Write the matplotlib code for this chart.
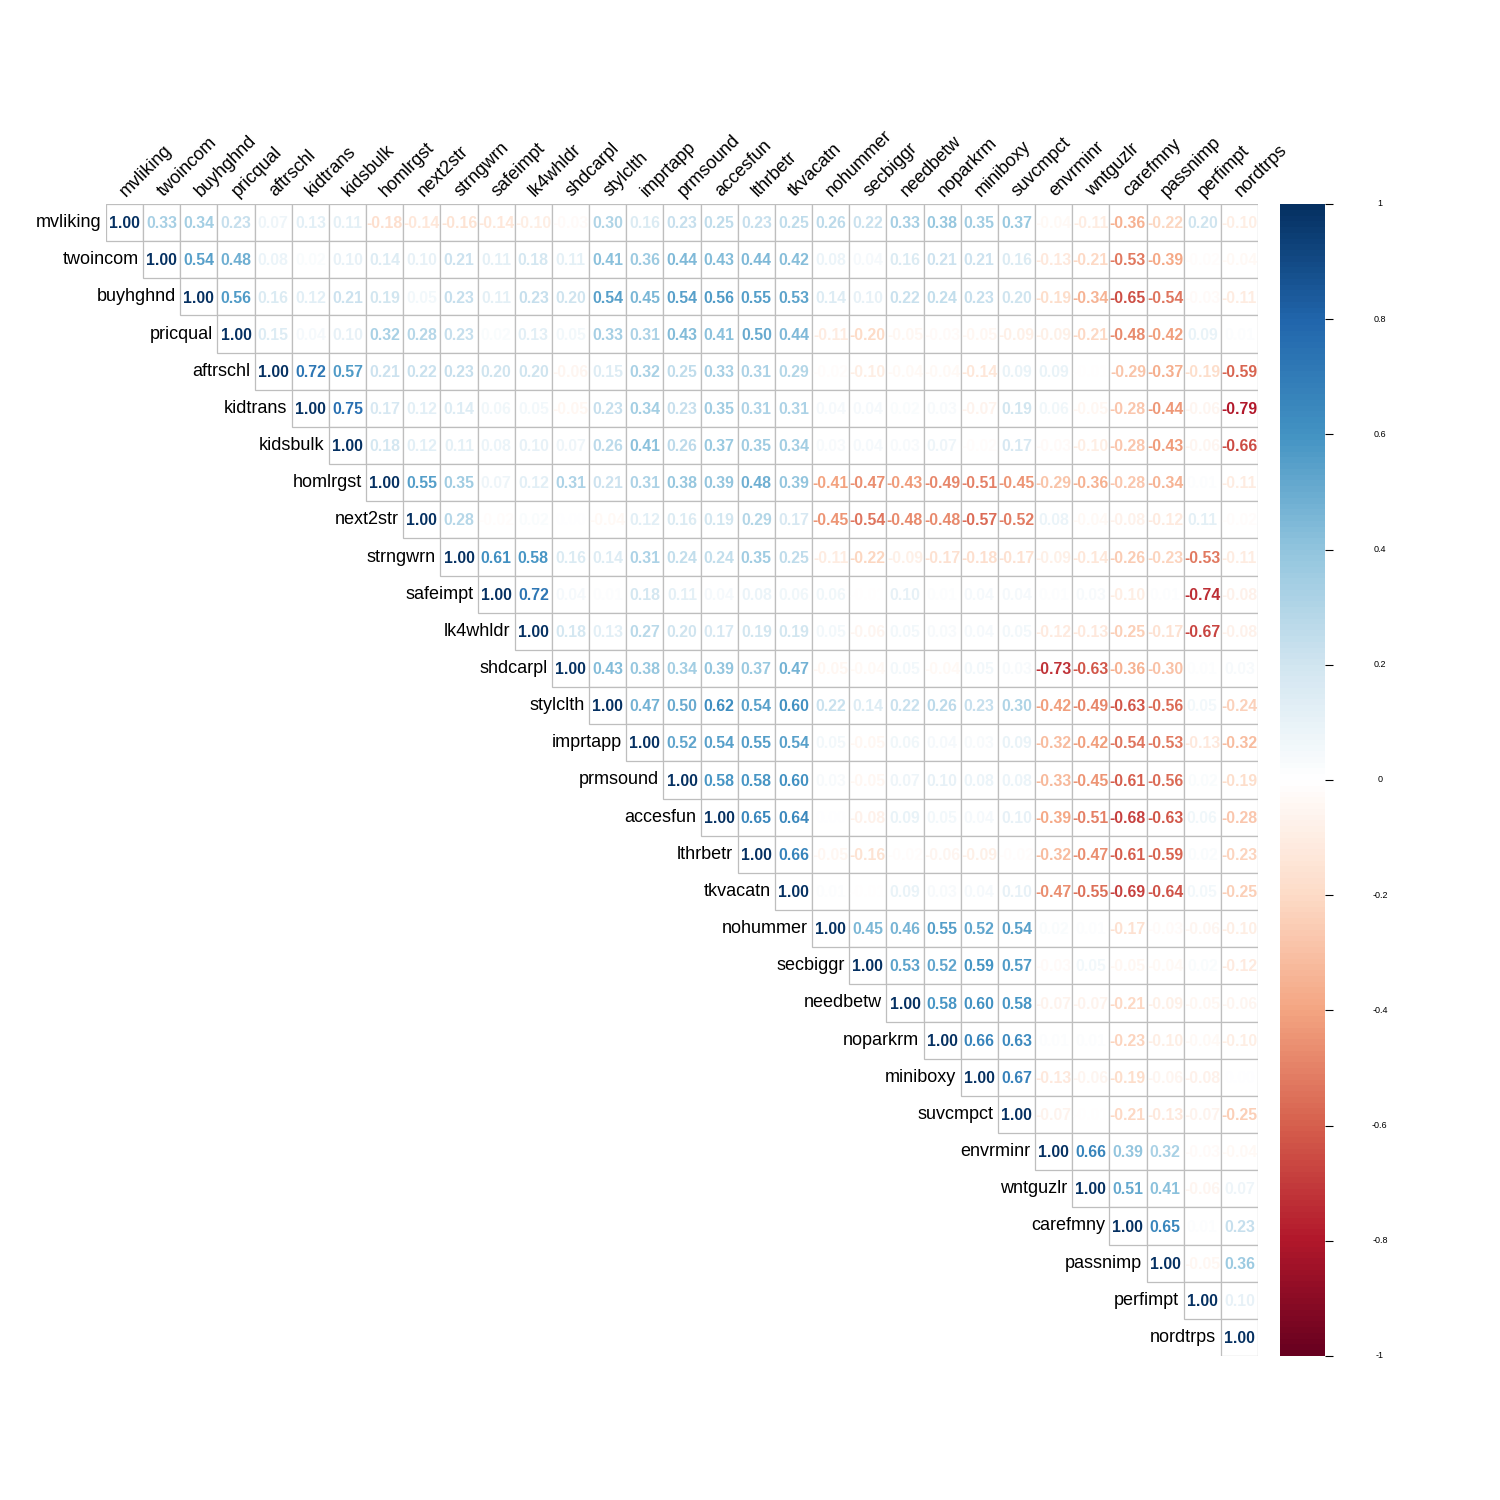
import matplotlib
matplotlib.use("Agg")
import matplotlib.pyplot as plt
import numpy as np
from matplotlib.colors import LinearSegmentedColormap, Normalize
from matplotlib.patches import Rectangle
import matplotlib.colorbar as mcolorbar

labels = ["mvliking", "twoincom", "buyhghnd", "pricqual", "aftrschl", "kidtrans", "kidsbulk",
          "homlrgst", "next2str", "strngwrn", "safeimpt", "lk4whldr", "shdcarpl", "stylclth",
          "imprtapp", "prmsound", "accesfun", "lthrbetr", "tkvacatn", "nohummer", "secbiggr",
          "needbetw", "noparkrm", "miniboxy", "suvcmpct", "envrminr", "wntguzlr", "carefmny",
          "passnimp", "perfimpt", "nordtrps"]

# upper triangle rows: row i holds correlations with columns i..30
upper_rows = [
    [1.00, 0.33, 0.34, 0.23, 0.07, 0.13, 0.11, -0.18, -0.14, -0.16, -0.14, -0.10, -0.03, 0.30, 0.16, 0.23, 0.25, 0.23, 0.25, 0.26, 0.22, 0.33, 0.38, 0.35, 0.37, -0.04, -0.11, -0.36, -0.22, 0.20, -0.10],
    [1.00, 0.54, 0.48, 0.08, 0.02, 0.10, 0.14, 0.10, 0.21, 0.11, 0.18, 0.11, 0.41, 0.36, 0.44, 0.43, 0.44, 0.42, 0.08, 0.04, 0.16, 0.21, 0.21, 0.16, -0.13, -0.21, -0.53, -0.39, -0.02, -0.04],
    [1.00, 0.56, 0.16, 0.12, 0.21, 0.19, 0.05, 0.23, 0.11, 0.23, 0.20, 0.54, 0.45, 0.54, 0.56, 0.55, 0.53, 0.14, 0.10, 0.22, 0.24, 0.23, 0.20, -0.19, -0.34, -0.65, -0.54, -0.03, -0.11],
    [1.00, 0.15, 0.04, 0.10, 0.32, 0.28, 0.23, 0.02, 0.13, 0.05, 0.33, 0.31, 0.43, 0.41, 0.50, 0.44, -0.11, -0.20, -0.05, -0.03, -0.05, -0.09, -0.09, -0.21, -0.48, -0.42, 0.09, 0.01],
    [1.00, 0.72, 0.57, 0.21, 0.22, 0.23, 0.20, 0.20, -0.06, 0.15, 0.32, 0.25, 0.33, 0.31, 0.29, -0.02, -0.10, -0.04, -0.04, -0.14, 0.09, 0.09, -0.01, -0.29, -0.37, -0.19, -0.59],
    [1.00, 0.75, 0.17, 0.12, 0.14, 0.06, 0.05, -0.05, 0.23, 0.34, 0.23, 0.35, 0.31, 0.31, 0.04, 0.04, 0.02, 0.03, -0.07, 0.19, 0.06, -0.05, -0.28, -0.44, -0.06, -0.79],
    [1.00, 0.18, 0.12, 0.11, 0.08, 0.10, 0.07, 0.26, 0.41, 0.26, 0.37, 0.35, 0.34, 0.03, 0.04, 0.03, 0.07, -0.02, 0.17, -0.03, -0.10, -0.28, -0.43, -0.06, -0.66],
    [1.00, 0.55, 0.35, 0.07, 0.12, 0.31, 0.21, 0.31, 0.38, 0.39, 0.48, 0.39, -0.41, -0.47, -0.43, -0.49, -0.51, -0.45, -0.29, -0.36, -0.28, -0.34, 0.01, -0.11],
    [1.00, 0.28, -0.02, 0.02, 0.00, -0.04, 0.12, 0.16, 0.19, 0.29, 0.17, -0.45, -0.54, -0.48, -0.48, -0.57, -0.52, 0.08, -0.04, -0.08, -0.12, 0.11, -0.02],
    [1.00, 0.61, 0.58, 0.16, 0.14, 0.31, 0.24, 0.24, 0.35, 0.25, -0.11, -0.22, -0.09, -0.17, -0.18, -0.17, -0.09, -0.14, -0.26, -0.23, -0.53, -0.11],
    [1.00, 0.72, 0.04, 0.01, 0.18, 0.11, 0.04, 0.08, 0.06, 0.06, -0.01, 0.10, 0.01, 0.04, 0.04, 0.01, 0.03, -0.10, 0.01, -0.74, -0.08],
    [1.00, 0.18, 0.13, 0.27, 0.20, 0.17, 0.19, 0.19, 0.05, -0.06, 0.05, 0.03, 0.04, 0.05, -0.12, -0.13, -0.25, -0.17, -0.67, -0.08],
    [1.00, 0.43, 0.38, 0.34, 0.39, 0.37, 0.47, -0.05, -0.04, 0.05, -0.04, 0.05, 0.03, -0.73, -0.63, -0.36, -0.30, 0.01, 0.03],
    [1.00, 0.47, 0.50, 0.62, 0.54, 0.60, 0.22, 0.14, 0.22, 0.26, 0.23, 0.30, -0.42, -0.49, -0.63, -0.56, 0.05, -0.24],
    [1.00, 0.52, 0.54, 0.55, 0.54, 0.05, -0.05, 0.06, 0.04, 0.03, 0.09, -0.32, -0.42, -0.54, -0.53, -0.13, -0.32],
    [1.00, 0.58, 0.58, 0.60, 0.03, -0.05, 0.07, 0.10, 0.08, 0.08, -0.33, -0.45, -0.61, -0.56, 0.02, -0.19],
    [1.00, 0.65, 0.64, 0.00, -0.08, 0.09, 0.05, 0.04, 0.10, -0.39, -0.51, -0.68, -0.63, 0.06, -0.28],
    [1.00, 0.66, -0.05, -0.16, -0.02, -0.06, -0.09, -0.02, -0.32, -0.47, -0.61, -0.59, 0.02, -0.23],
    [1.00, 0.01, -0.01, 0.09, 0.03, 0.04, 0.10, -0.47, -0.55, -0.69, -0.64, 0.05, -0.25],
    [1.00, 0.45, 0.46, 0.55, 0.52, 0.54, 0.02, 0.01, -0.17, -0.03, -0.06, -0.10],
    [1.00, 0.53, 0.52, 0.59, 0.57, -0.03, 0.05, -0.05, -0.04, 0.02, -0.12],
    [1.00, 0.58, 0.60, 0.58, -0.07, -0.07, -0.21, -0.09, -0.05, -0.06],
    [1.00, 0.66, 0.63, 0.01, 0.01, -0.23, -0.10, -0.04, -0.10],
    [1.00, 0.67, -0.13, -0.06, -0.19, -0.06, -0.08, 0.00],
    [1.00, -0.07, -0.01, -0.21, -0.13, -0.07, -0.25],
    [1.00, 0.66, 0.39, 0.32, -0.03, -0.04],
    [1.00, 0.51, 0.41, -0.06, 0.07],
    [1.00, 0.65, 0.01, 0.23],
    [1.00, -0.05, 0.36],
    [1.00, 0.10],
    [1.00],
]

cbar_ticks = [1, 0.8, 0.6, 0.4, 0.2, 0, -0.2, -0.4, -0.6, -0.8, -1]
cbar_ticklabels = ["1", "0.8", "0.6", "0.4", "0.2", "0", "-0.2", "-0.4", "-0.6", "-0.8", "-1"]

col2 = ["#67001F", "#B2182B", "#D6604D", "#F4A582", "#FDDBC7", "#FFFFFF",
        "#D1E5F0", "#92C5DE", "#4393C3", "#2166AC", "#053061"]
cmap = LinearSegmentedColormap.from_list("corrRdBu", col2, N=200)
norm = Normalize(vmin=-1, vmax=1)

plt.rcParams['font.family'] = ['Liberation Sans', 'DejaVu Sans']

n = len(labels)
fig = plt.figure(figsize=(15, 15), dpi=100)
W = H = 1500.0
gx0, gx1, gy0, gy1 = 106, 1258, 204, 1356
ax = fig.add_axes([gx0 / W, 1 - gy1 / H, (gx1 - gx0) / W, (gy1 - gy0) / H])
ax.set_xlim(0, n)
ax.set_ylim(n, 0)
ax.axis('off')

grid_col = "#BEBEBE"
for i, row in enumerate(upper_rows):
    for k, v in enumerate(row):
        j = i + k
        ax.add_patch(Rectangle((j, i), 1, 1, facecolor="white", edgecolor=grid_col,
                               lw=0.9, zorder=1))
for i, row in enumerate(upper_rows):
    for k, v in enumerate(row):
        j = i + k
        ax.text(j + 0.5, i + 0.53, f"{v:.2f}", ha='center', va='center',
                fontsize=11.4, fontweight='bold', color=cmap(norm(v)), zorder=3)

# row labels
for i, lab in enumerate(labels):
    ax.text(i - 0.12, i + 0.5, lab, ha='right', va='center', fontsize=13, color='black',
            clip_on=False)
# column labels
for j, lab in enumerate(labels):
    ax.text(j + 0.62, -0.1, lab, ha='left', va='bottom', rotation=45,
            rotation_mode='anchor', fontsize=13, color='black', clip_on=False)

# colorbar
cax = fig.add_axes([1280 / W, 1 - gy1 / H, 45 / W, (gy1 - gy0) / H])
cb = mcolorbar.ColorbarBase(cax, cmap=cmap, norm=norm, orientation='vertical')
cb.outline.set_visible(False)
cb.set_ticks(cbar_ticks)
cax.tick_params(axis='y', length=6, width=0.8, color='black', labelright=False,
                labelleft=False, right=True, left=False)
for t, lab in zip(cbar_ticks, cbar_ticklabels):
    cax.text(2.22, t, lab, ha='center', va='center', fontsize=6.5,
             transform=cax.get_yaxis_transform(), clip_on=False)

fig.savefig("out.png", dpi=100, facecolor='white')
